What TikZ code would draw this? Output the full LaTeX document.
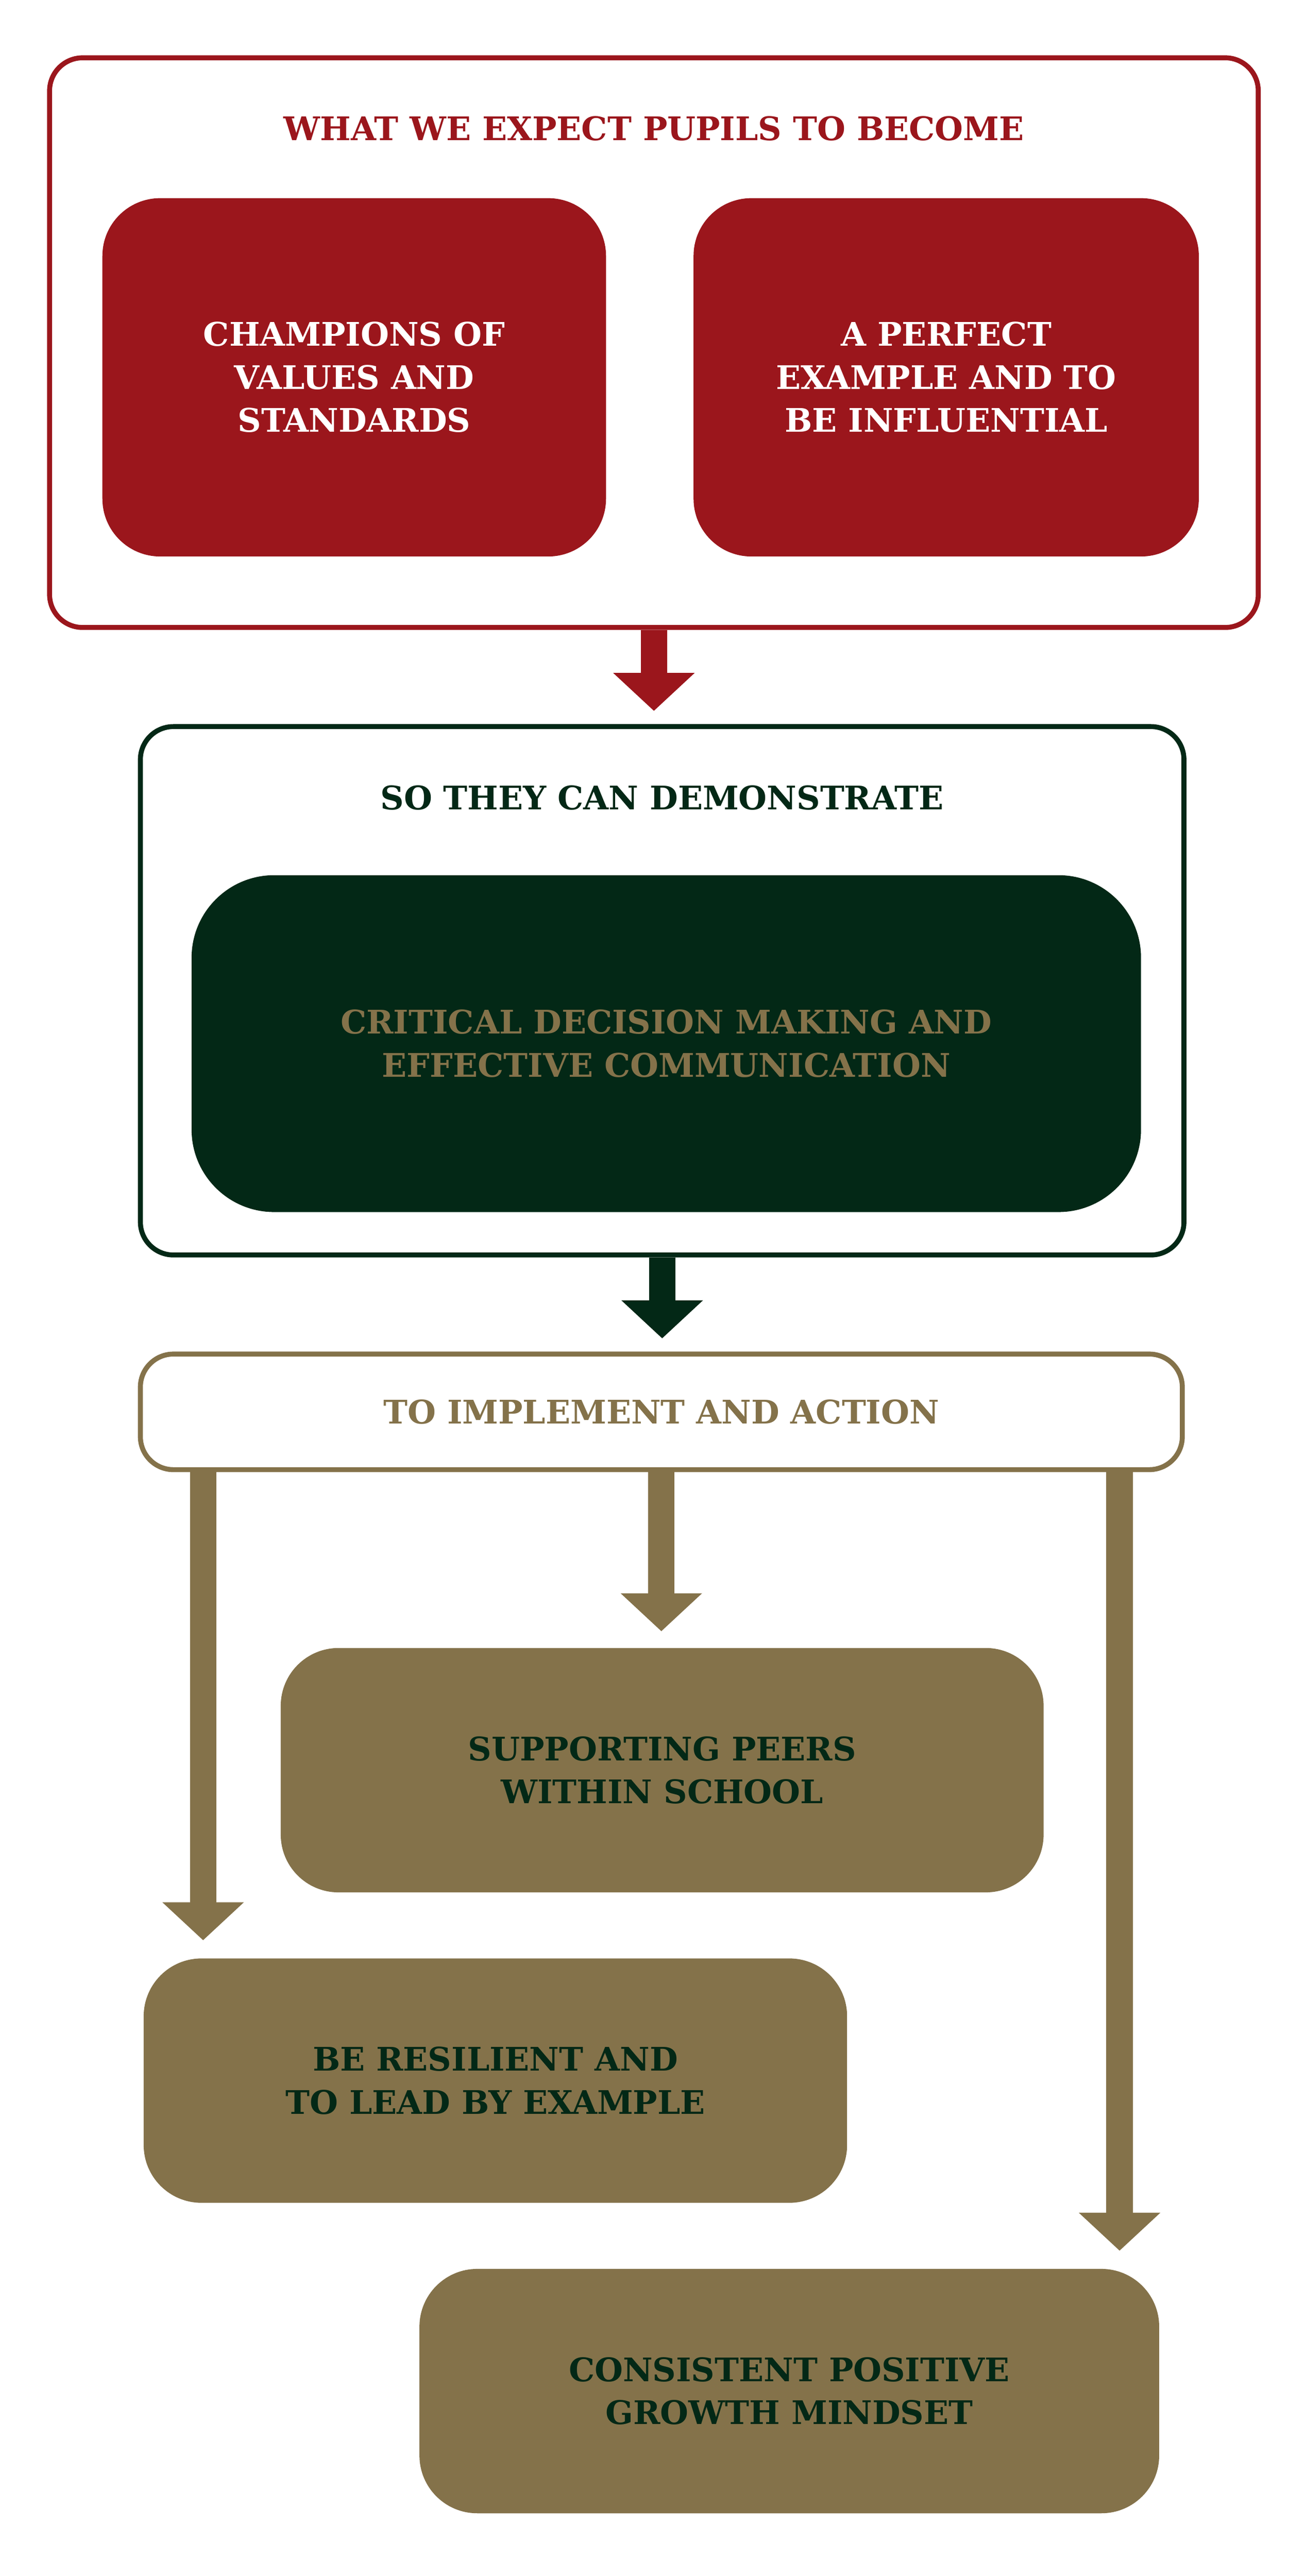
\documentclass[tikz,border=0pt]{standalone}
\usepackage{fontspec}
\setmainfont{DejaVu Serif}
\usetikzlibrary{arrows.meta}
\definecolor{schoolred}{HTML}{9B161C}
\definecolor{schoolgreen}{HTML}{032816}
\definecolor{schoolgold}{HTML}{84724A}
\begin{document}
\begin{tikzpicture}
[x=0.05cm, y=-0.05cm,
 nodes={font=\bfseries\fontsize{28}{37}\selectfont, align=center, inner sep=0pt},
 frame/.style={draw, line width=0.15cm, rounded corners=1cm, fill=white},
 tile/.style={rounded corners=1.75cm, minimum height=7.4cm},
 flow/.style={line width=0.8cm, -{Triangle[width=2.4cm,length=1.15cm]}}]
\useasboundingbox (0,0) rectangle (790,1560);

\node (Become) [frame, draw=schoolred, minimum width=36.6cm, minimum height=17.25cm] at (396,207.5) {};
\node (BecomeTitle) [text=schoolred] at (396,78) {WHAT WE EXPECT PUPILS TO BECOME};
\node (Champions) [fill=schoolred, text=white, rounded corners=1.75cm, minimum width=15.25cm, minimum height=10.85cm] at (214.5,228.5) {CHAMPIONS OF\\VALUES AND\\STANDARDS};
\node (Example) [fill=schoolred, text=white, rounded corners=1.75cm, minimum width=15.3cm, minimum height=10.85cm] at (573,228.5) {A PERFECT\\EXAMPLE AND TO\\BE INFLUENTIAL};

\node (Demonstrate) [frame, draw=schoolgreen, minimum width=31.6cm, minimum height=16cm] at (401,600) {};
\node (DemonstrateTitle) [text=schoolgreen] at (401,483) {SO THEY CAN DEMONSTRATE};
\node (Decision) [fill=schoolgreen, text=schoolgold, rounded corners=2.5cm, minimum width=28.75cm, minimum height=10.2cm] at (403.5,632) {CRITICAL DECISION MAKING AND\\EFFECTIVE COMMUNICATION};

\node (Action) [frame, draw=schoolgold, text=schoolgold, minimum width=31.55cm, minimum height=3.5cm] at (400.5,855) {TO IMPLEMENT AND ACTION};
\node (Peers) [tile, fill=schoolgold, text=schoolgreen, minimum width=23.1cm] at (401,1072) {SUPPORTING PEERS\\ WITHIN SCHOOL};
\node (Resilient) [tile, fill=schoolgold, text=schoolgreen, minimum width=21.3cm] at (300,1260) {BE RESILIENT AND\\TO LEAD BY EXAMPLE};
\node (Mindset) [tile, fill=schoolgold, text=schoolgreen, minimum width=22.4cm] at (478,1448) {CONSISTENT POSITIVE\\ GROWTH MINDSET};

\coordinate (LeftTop) at (123,890);
\coordinate (LeftEnd) at (123,1175);
\coordinate (RightTop) at (678,890);
\coordinate (RightEnd) at (678,1363);

\draw [flow, schoolred, shorten >=0.4cm] (Become.south) -- (Become.south |- Demonstrate.north);
\draw [flow, schoolgreen, shorten >=0.4cm] (Demonstrate.south) -- (Demonstrate.south |- Action.north);
\draw [flow, schoolgold, shorten >=0.5cm] (Action.south) -- (Action.south |- Peers.north);
\draw [flow, schoolgold] (LeftTop) -- (LeftEnd);
\draw [flow, schoolgold] (RightTop) -- (RightEnd);
\end{tikzpicture}
\end{document}
